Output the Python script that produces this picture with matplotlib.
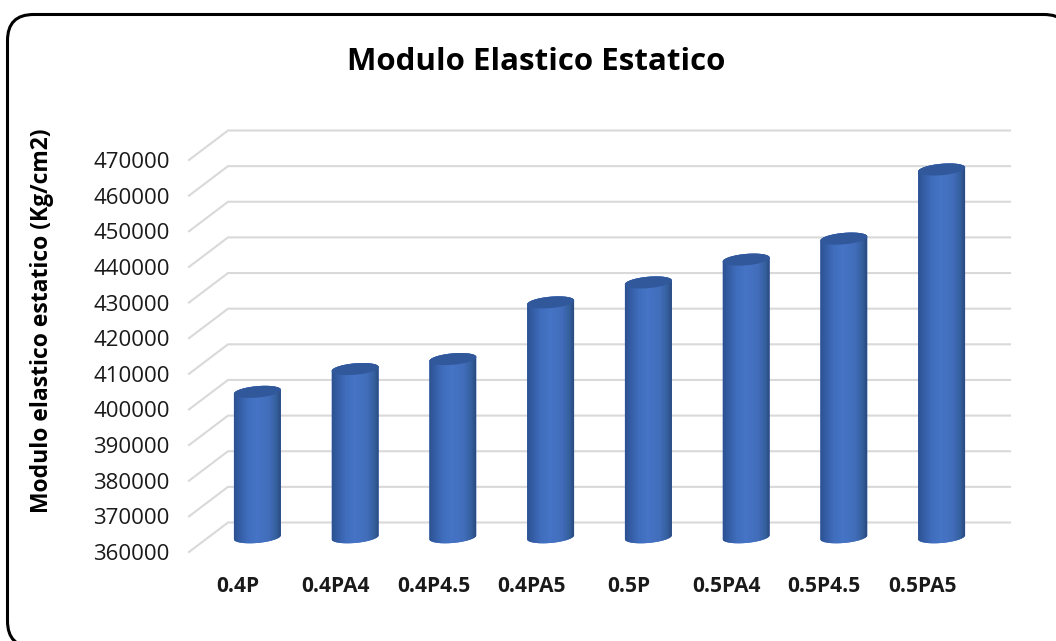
import numpy as np
import matplotlib
matplotlib.use("Agg")
import matplotlib.pyplot as plt
from matplotlib.colors import LinearSegmentedColormap
from matplotlib.patches import FancyBboxPatch, PathPatch
from matplotlib.path import Path

categories = ["0.4P", "0.4PA4", "0.4P4.5", "0.4PA5", "0.5P", "0.5PA4", "0.5P4.5", "0.5PA5"]
values = [400800, 407200, 410000, 425900, 431500, 437900, 443800, 463200]
y_ticks = list(range(360000, 470001, 10000))

W, H = 1056, 641
plt.rcParams["font.family"] = ["Open Sans", "DejaVu Sans"]
fig = plt.figure(figsize=(W / 100, H / 100), dpi=100, facecolor="white")

# frame (runs off the canvas at right and bottom)
bg = fig.add_axes([0, 0, 1, 1], zorder=0)
bg.set_xlim(0, W); bg.set_ylim(H, 0); bg.axis("off")
bg.add_patch(FancyBboxPatch((7.5, 14.5), 1062.5, 632.5,
                            boxstyle="round,pad=0,rounding_size=26",
                            fc="white", ec="black", lw=2.2))

# plot box: front plane left/bottom to back plane right/top
L, R, T, B = 189, 1010, 130.5, 552
ax = fig.add_axes([L / W, 1 - B / H, (R - L) / W, (B - T) / H], zorder=1)
ax.patch.set_alpha(0)
depth_px_x, depth_px_y = 39, 29.5
px_per_y = (552 - 160) / 110000
px_per_x = (R - L - depth_px_x) / len(categories)
dx, dy = depth_px_x / px_per_x, depth_px_y / px_per_y
ax.set_xlim(0, len(categories) + dx)
ax.set_ylim(y_ticks[0], y_ticks[-1] + dy)
for s in ax.spines.values():
    s.set_visible(False)

grid_c = "#D9D9D9"
for t in y_ticks:
    ax.plot([0, dx, len(categories) + dx], [t, t + dy, t + dy], color=grid_c, lw=1.5,
            solid_joinstyle="miter", zorder=1, clip_on=False)

cmap = LinearSegmentedColormap.from_list("cyl", [
    (0.0, "#2C5290"), (0.12, "#345DA5"), (0.3, "#406EBD"), (0.48, "#4674C6"),
    (0.75, "#416DBA"), (0.9, "#35609F"), (1.0, "#2A4A80")])
grad = np.linspace(0, 1, 256).reshape(1, -1)
a, b, c = 23.5 / px_per_x, 5.7 / px_per_y, 2.0 / px_per_y
t = np.linspace(0, 2 * np.pi, 121)
for i, v in enumerate(values):
    xc = i + 0.5 + dx / 2
    yc_top = v + dy / 2
    yc_bot = y_ticks[0] + dy / 2
    ex = xc + a * np.cos(t)
    ey = b * np.sin(t) + c * np.cos(t)
    # body outline: top rim far to near, bottom rim lower half
    tb = np.linspace(np.pi, 2 * np.pi, 60)
    bx = xc + a * np.cos(tb)
    by = yc_bot + b * np.sin(tb) + c * np.cos(tb)
    tt = np.linspace(0, np.pi, 60)
    tx = xc + a * np.cos(tt)
    ty = yc_top + b * np.sin(tt) + c * np.cos(tt)
    body = PathPatch(Path(np.column_stack([np.r_[bx, tx], np.r_[by, ty]])), fc="#4472C4", ec="none", zorder=3)
    ax.add_patch(body)
    im = ax.imshow(grad, cmap=cmap, extent=(xc - a, xc + a, y_ticks[0], yc_top + 3 * b),
                   aspect="auto", zorder=3.1, interpolation="bilinear")
    im.set_clip_path(body)
    ax.fill(ex, yc_top + ey, color="#30589B", lw=0, zorder=4)

ax.set_xlim(0, len(categories) + dx)
ax.set_ylim(y_ticks[0], y_ticks[-1] + dy)

ax.set_yticks(y_ticks)
ax.set_yticklabels([str(t) for t in y_ticks], fontsize=16, color="#1a1a1a")
ax.set_xticks([i + 0.5 for i in range(len(categories))])
ax.set_xticklabels(categories, fontsize=15, fontweight="bold", color="#1a1a1a")
ax.tick_params(axis="y", length=0, pad=14)
ax.tick_params(axis="x", length=0, pad=17)

fig.text(536.5 / W, 1 - 62 / H, "Modulo Elastico Estatico", fontsize=22.5, fontweight="bold",
         ha="center", va="center", color="black")
fig.text(42 / W, 1 - 321 / H, "Modulo elastico estatico (Kg/cm2)", fontsize=16.5, fontweight="bold",
         rotation=90, ha="center", va="center", color="black")

fig.savefig("out.png", dpi=100)
